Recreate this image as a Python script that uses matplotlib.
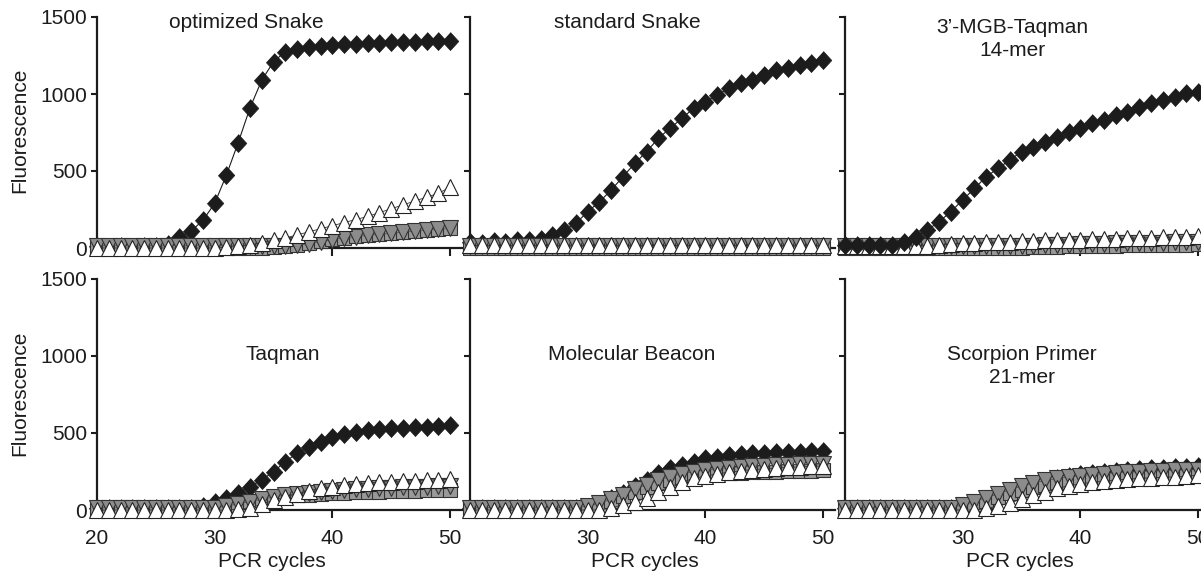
import numpy as np
import matplotlib
matplotlib.use("Agg")
import matplotlib.pyplot as plt

plt.rcParams['font.family'] = ['Liberation Sans', 'DejaVu Sans']

cycles = np.arange(20, 51)

# optimized Snake
p1_diamond = [10, 5, 10, 5, 15, 10, 25, 70, 110, 180, 290, 475, 685, 910, 1090, 1210,
              1275, 1295, 1305, 1312, 1318, 1322, 1326, 1330, 1333, 1336, 1338, 1340, 1342, 1344, 1346]
p1_square = [0]*14 + [0, 5, 10, 20, 30, 45, 58, 68, 77, 85, 92, 99, 106, 112, 118, 124, 130]
p1_down = [15]*17 + [20, 28, 42, 55, 65, 74, 82, 89, 96, 103, 109, 115, 121, 127]
p1_up = [0]*11 + [5, 10, 20, 35, 50, 65, 85, 105, 125, 145, 165, 185, 205, 230, 255, 280, 305, 330, 355, 395]

# standard Snake
p2_diamond = [40, 35, 45, 40, 50, 50, 60, 84, 117, 160, 236, 300, 377, 463, 550, 625, 712,
              777, 842, 907, 950, 993, 1037, 1074, 1091, 1123, 1156, 1167, 1188, 1199, 1221]
p2_square = [0]*31
p2_down = [15]*31
p2_up = [20]*31

# 3'-MGB-Taqman 14-mer
p3_diamond = [20, 20, 20, 20, 20, 41, 74, 117, 171, 236, 312, 387, 463, 517, 571, 625, 658,
              690, 723, 755, 777, 810, 831, 864, 885, 918, 939, 961, 983, 1004, 1015]
p3_square = [0]*15 + [2, 4, 6, 8, 10, 12, 14, 15, 16, 17, 18, 19, 20, 21, 22, 23]
p3_down = [12]*15 + [14, 16, 18, 20, 22, 24, 26, 28, 30, 32, 33, 34, 35, 36, 37, 38]
p3_up = [15]*8 + [20, 25, 30, 33, 36, 39, 42, 45, 47, 49, 51, 53, 55, 57, 59, 61, 63, 65, 67, 69, 71, 73, 75]

# Taqman
p4_diamond = [10]*9 + [25, 54, 76, 108, 152, 195, 249, 314, 368, 411, 444, 476, 494, 509,
                       519, 526, 530, 535, 537, 541, 545, 552]
p4_square = [5]*11 + [15, 30, 50, 65, 78, 88, 95, 100, 105, 109, 112, 115, 117, 119, 121, 123, 125, 127, 129, 131]
p4_down = [15]*11 + [25, 40, 55, 70, 85, 95, 105, 113, 120, 126, 131, 135, 139, 142, 145, 148, 150, 152, 154, 156]
p4_up = [0]*12 + [5, 12, 40, 62, 85, 105, 125, 140, 152, 162, 170, 176, 181, 185, 188, 191, 194, 197, 200]

# Molecular Beacon
p5_diamond = [10]*10 + [20, 40, 75, 110, 155, 195, 238, 270, 292, 314, 335, 346, 357, 364,
                        368, 372, 375, 377, 379, 381, 385]
p5_square = [5]*10 + [15, 35, 60, 90, 120, 150, 175, 195, 210, 220, 228, 234, 238, 242, 245, 248, 250, 252, 254, 256, 258]
p5_down = [15]*10 + [25, 45, 70, 100, 135, 165, 195, 215, 235, 250, 260, 268, 275, 280, 285, 288, 291, 294, 296, 298, 300]
p5_up = [0]*12 + [15, 30, 50, 80, 120, 150, 180, 205, 220, 235, 245, 255, 262, 268, 272, 276, 280, 283, 286]

# Scorpion Primer 21-mer
p6_diamond = [10]*12 + [40, 75, 110, 145, 170, 190, 208, 222, 233, 242, 250, 256, 261,
                        266, 270, 274, 278, 281, 285]
p6_square = [5]*10 + [20, 40, 60, 85, 110, 130, 148, 162, 173, 182, 189, 195, 200, 204, 208, 211, 214, 217, 219, 221, 223]
p6_down = [15]*10 + [35, 55, 80, 105, 130, 155, 175, 192, 205, 215, 223, 230, 236, 241, 245, 249, 252, 255, 258, 260, 262]
p6_up = [0]*12 + [10, 25, 45, 70, 95, 120, 140, 157, 170, 180, 188, 195, 200, 205, 209, 212, 215, 218, 228]

panels = [
    (p1_diamond, p1_square, p1_down, p1_up),
    (p2_diamond, p2_square, p2_down, p2_up),
    (p3_diamond, p3_square, p3_down, p3_up),
    (p4_diamond, p4_square, p4_down, p4_up),
    (p5_diamond, p5_square, p5_down, p5_up),
    (p6_diamond, p6_square, p6_down, p6_up),
]

W, H = 1201, 572
fig = plt.figure(figsize=(W/100, H/100), dpi=100)

lefts = [97, 470, 845]
zeros = [248, 510]
px_per_cycle = 11.77
px_per_unit = 0.154

diamond = [(0, 1), (0.92, 0), (0, -1), (-0.92, 0)]
ink = '#1c1c1c'

for i, data in enumerate(panels):
    row, col = divmod(i, 3)
    x0 = lefts[col]
    w = 31 * px_per_cycle
    h = 1500 * px_per_unit
    y0 = zeros[row]
    ax = fig.add_axes([x0/W, 1 - y0/H, w/W, h/H])
    ax.set_facecolor('none')
    ax.set_xlim(20, 51)
    ax.set_ylim(0, 1500)
    d, s, dn, up = data
    dz = 7 if i == 2 else 3
    ax.plot(cycles, d, color=ink, lw=0.8, marker=diamond, ms=13, mfc=ink, mec=ink,
            mew=0.5, zorder=dz, clip_on=False)
    ax.plot(cycles, s, color='#555555', lw=0.8, marker='s', ms=10.5, mfc='#999999', mec='#333333',
            mew=0.8, zorder=4, clip_on=False)
    ax.plot(cycles, dn, color='#555555', lw=0.6, marker='v', ms=11, mfc='#8c8c8c', mec='#333333',
            mew=0.8, zorder=5, clip_on=False)
    ax.plot(cycles, up, color='#333333', lw=0.6, marker='^', ms=11.5, mfc='white', mec='#222222',
            mew=0.8, zorder=6, clip_on=False)

    for sp in ['top', 'right']:
        ax.spines[sp].set_visible(False)
    for sp in ['left', 'bottom']:
        ax.spines[sp].set_linewidth(1.6)
        ax.spines[sp].set_color(ink)
    ax.set_xticks([20, 30, 40, 50])
    ax.set_yticks([0, 500, 1000, 1500])
    ax.tick_params(axis='y', direction='out', length=4, width=1.5, pad=3,
                   labelsize=15, colors=ink)
    ax.tick_params(axis='x', direction='out', length=6, width=1.5, pad=8,
                   labelsize=15, colors=ink)
    if col != 0:
        ax.set_yticklabels([])
    if row == 0:
        ax.set_xticklabels([])
    elif col != 0:
        ax.set_xticklabels(['', '30', '40', '50'])

fs = 15
def ftext(x, y, s, **kw):
    fig.text(x/W, 1 - y/H, s, fontsize=fs, color=ink, ha='center', va='baseline', **kw)

ftext(246, 28, 'optimized Snake')
ftext(627, 28, 'standard Snake')
ftext(1012, 33, "3\u2019-MGB-Taqman")
ftext(1012, 56, '14-mer')
ftext(283, 360, 'Taqman')
ftext(632, 360, 'Molecular Beacon')
ftext(1022, 360, 'Scorpion Primer')
ftext(1022, 383, '21-mer')

for x in [272, 645, 1020]:
    ftext(x, 567, 'PCR cycles')
for y in [130, 393]:
    fig.text(20/W, 1 - y/H, 'Fluorescence', fontsize=fs, color=ink, rotation=90,
             ha='center', va='center')

fig.savefig('out.png', dpi=100)
